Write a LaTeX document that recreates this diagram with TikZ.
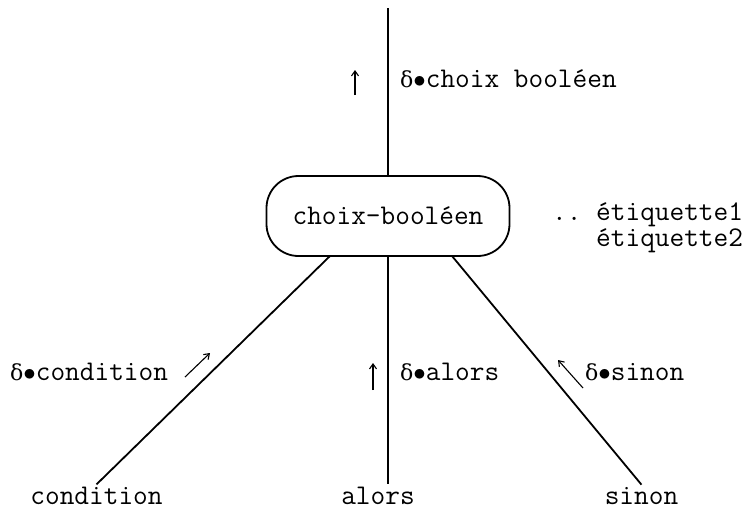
\documentclass[tikz,border=0pt]{standalone}
\usepackage{fontspec}
\newfontfamily\grk{DejaVu Serif}
\usetikzlibrary{arrows.meta,calc}
\newcommand{\dlt}{{\grk\fontsize{22}{22}\selectfont δ}{\fontsize{25}{25}\selectfont$\bullet$}}
\begin{document}
\begin{tikzpicture}[x=1pt,y=-1pt,
  every node/.style={font=\ttfamily\fontsize{28.5}{26}\selectfont},
  lbl/.style={anchor=base west,inner sep=0pt},
  leaf/.style={anchor=base,inner sep=2pt},
  edge/.style={line width=1.8pt},
  flow/.style={line width=1.1pt,-{Straight Barb[length=5pt,width=7pt]}}]
\useasboundingbox (0,0) rectangle (755,509);
% central box
\node[draw,line width=1.8pt,rounded corners=32pt,minimum width=243pt,minimum height=80pt,inner sep=0pt] (cb) at (388,216) {choix-booléen};
% leaves
\node[leaf] (condition) at (96.5,504) {condition};
\node[leaf] (alors) at (378,504) {alors};
\node[leaf] (sinon) at (641.5,504) {sinon};
\coordinate (top) at (388,8);
\coordinate (bL) at (330,256);
\coordinate (bR) at (452,256);
% connectors
\draw[edge] (top) -- (top |- cb.north);
\draw[edge] (bL) -- (condition.north);
\draw[edge] (cb.south) -- (alors.north -| cb.south);
\draw[edge] (bR) -- (sinon.north);
% labels
\node[lbl] (lt) at (400,87) {\dlt choix booléen};
\node[lbl,align=left] (le) at (552,246) {..\ étiquette1\\\phantom{..\ }étiquette2};
\node[lbl] (lc) at (10,380) {\dlt condition};
\node[lbl] (la) at (400,380) {\dlt alors};
\node[lbl] (ls) at (585,380) {\dlt sinon};
% flow arrows
\draw[flow] (355,95) -- (355,70);
\draw[flow] (373,390) -- (373,363);
\draw[flow] (185,377) -- (210,353);
\draw[flow] (583,388) -- (558,360);
\end{tikzpicture}
\end{document}
